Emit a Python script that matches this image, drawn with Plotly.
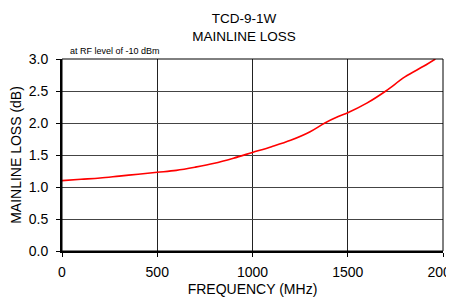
import plotly.graph_objects as go

freq_mhz = [0, 100, 200, 300, 400, 500, 600, 700, 800, 900, 1000, 1100, 1200, 1300, 1380, 1450, 1500, 1600, 1700, 1800, 1900, 1960]
loss_db = [1.10, 1.12, 1.14, 1.17, 1.20, 1.23, 1.26, 1.31, 1.37, 1.45, 1.54, 1.63, 1.73, 1.86, 2.00, 2.10, 2.16, 2.31, 2.50, 2.72, 2.89, 3.00]

x_ticks = [0, 500, 1000, 1500, 2000]
y_ticks = [0.0, 0.5, 1.0, 1.5, 2.0, 2.5, 3.0]

fig = go.Figure()
fig.add_trace(go.Scatter(x=freq_mhz, y=loss_db, mode="lines",
                         line=dict(color="#ff0000", width=1.6, shape="spline"),
                         showlegend=False, hoverinfo="skip", cliponaxis=False))

# the page body has an 8px default margin; margins compensate so the plot
# area lands where the reference has it
font = "Liberation Sans, Arial, sans-serif"
fig.update_layout(
    width=454, height=297,
    margin=dict(l=54, r=18.5, t=51, b=54, autoexpand=False),
    paper_bgcolor="white", plot_bgcolor="white",
    font=dict(family=font, color="black", size=14),
    title=dict(text="TCD-9-1W<br>MAINLINE LOSS", x=0.52, xanchor="center",
               y=0.949, yanchor="middle", font=dict(size=13.5, family=font)),
    xaxis=dict(range=[0, 2000], tickvals=x_ticks, ticktext=[str(v) for v in x_ticks],
               showgrid=True, gridcolor="#222222", gridwidth=1,
               showline=True, linecolor="black", linewidth=2, mirror=False,
               ticks="outside", ticklen=4, tickcolor="black", ticklabelstandoff=3,
               tickfont=dict(size=14), zeroline=False, automargin=False,
               title=dict(text="FREQUENCY (MHz)", font=dict(size=14), standoff=5)),
    yaxis=dict(range=[0, 3.0], tickvals=y_ticks, ticktext=[f"{v:.1f}" for v in y_ticks],
               showgrid=True, gridcolor="#444444", gridwidth=1,
               showline=True, linecolor="black", linewidth=2,
               ticks="outside", ticklen=4, tickcolor="black", ticklabelstandoff=5,
               tickfont=dict(size=14), zeroline=False, automargin=False,
               title=dict(text="MAINLINE LOSS (dB)", font=dict(size=14), standoff=4)),
    shapes=[dict(type="rect", xref="paper", yref="paper", x0=0, x1=1, y0=0, y1=1,
                 line=dict(color="black", width=1))],
    annotations=[dict(text="at RF level of -10 dBm", xref="paper", yref="paper",
                      x=0.016, y=1.0, xanchor="left", yanchor="bottom", yshift=1,
                      showarrow=False, font=dict(size=9, family=font))],
)

fig.write_html("out.html")
